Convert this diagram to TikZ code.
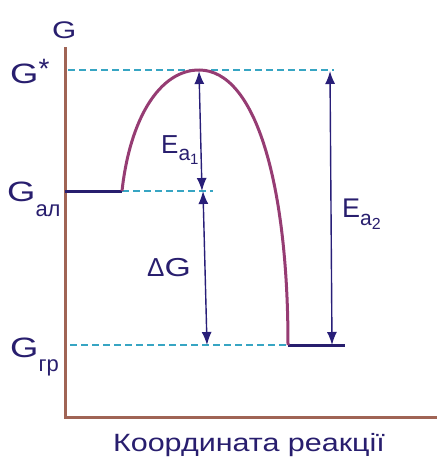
\documentclass[tikz,border=0pt]{standalone}
\usepackage{fontspec}
\setmainfont{Liberation Sans}
\usetikzlibrary{arrows.meta}
\definecolor{txt}{RGB}{40,30,110}
\definecolor{axiscol}{RGB}{160,100,85}
\definecolor{curvecol}{RGB}{150,60,115}
\definecolor{dashcol}{RGB}{55,165,195}
\definecolor{arrcol}{RGB}{40,30,120}
\newcommand{\wideG}{\scalebox{1.3}[1]{G}}
\newcommand{\fsz}[1]{\fontsize{#1}{#1}\selectfont}
\begin{document}
\begin{tikzpicture}[x=1pt,y=-1pt,
  lbl/.style={inner sep=0pt,anchor=base west,text=txt},
  axisline/.style={draw=axiscol,line width=3pt},
  levelline/.style={draw=txt,line width=3pt},
  guide/.style={draw=dashcol,line width=1.3pt,dash pattern=on 7pt off 4pt},
  dimarrow/.style={draw=arrcol,line width=1.4pt,{Latex[length=13pt,width=10pt]}-{Latex[length=13pt,width=10pt]}},
  curveline/.style={draw=curvecol,line width=3pt}]
\useasboundingbox (0,0) rectangle (437,458);
% axes
\coordinate (top) at (65,47);
\coordinate (origin) at (65,417);
\coordinate (xend) at (437,417);
\draw[axisline] (top) -- (origin) -- (xend);
% level coordinates
\coordinate (gsL) at (68,70);
\coordinate (peak) at (199,70);
\coordinate (gsR) at (334,70);
\coordinate (galL) at (65,191);
\coordinate (galR) at (122,191);
\coordinate (galD) at (213,191);
\coordinate (ggrL) at (70,345);
\coordinate (ggrM) at (288,345);
\coordinate (ggrR) at (345,345);
% dashed guides
\draw[guide] (gsL) -- (gsR);
\draw[guide] (galR) -- (galD);
\draw[guide] (ggrL) -- (ggrM);
% levels
\draw[levelline] (galL) -- (galR);
\draw[levelline] (ggrM) -- (ggrR);
% curve
\draw[curveline] (galR) .. controls (130,118) and (160,70) .. (peak)
  .. controls (256,70) and (288,185) .. (ggrM);
% arrows
\coordinate (a1t) at (199,71);
\coordinate (a1b) at (202,191);
\coordinate (a2t) at (203,191);
\coordinate (a2b) at (207,345);
\coordinate (a3t) at (330,71);
\coordinate (a3b) at (332,345);
\draw[dimarrow] (a1t) -- (a1b);
\draw[dimarrow] (a2t) -- (a2b);
\draw[dimarrow] (a3t) -- (a3b);
% labels
\node[lbl,font=\fsz{24}] (lG) at (52,38) {\wideG};
\node[lbl,font=\fsz{28}] (lGs) at (10,83) {\wideG\raisebox{5pt}{*}};
\node[lbl,font=\fsz{28}] (lGal) at (7,201) {\wideG\raisebox{-15pt}{\fsz{22}ал}};
\node[lbl,font=\fsz{28}] (lGgr) at (10,357) {\wideG\raisebox{-14pt}{\fsz{22}гр}};
\node[lbl,font=\fsz{26}] (lEa1) at (161,153) {E\raisebox{-7pt}{\fsz{21}a\raisebox{-4pt}{\fsz{15}1}}};
\node[lbl,font=\fsz{27}] (lEa2) at (342,217) {E\raisebox{-8pt}{\fsz{21}a\raisebox{-4pt}{\fsz{16}2}}};
\node[lbl,font=\fsz{26}] (lDG) at (147,276) {Δ\wideG};
\node[lbl,font=\fsz{25},anchor=base] (lX) at (249,451) {\scalebox{1.22}[1]{Координата реакції}};
\end{tikzpicture}
\end{document}
